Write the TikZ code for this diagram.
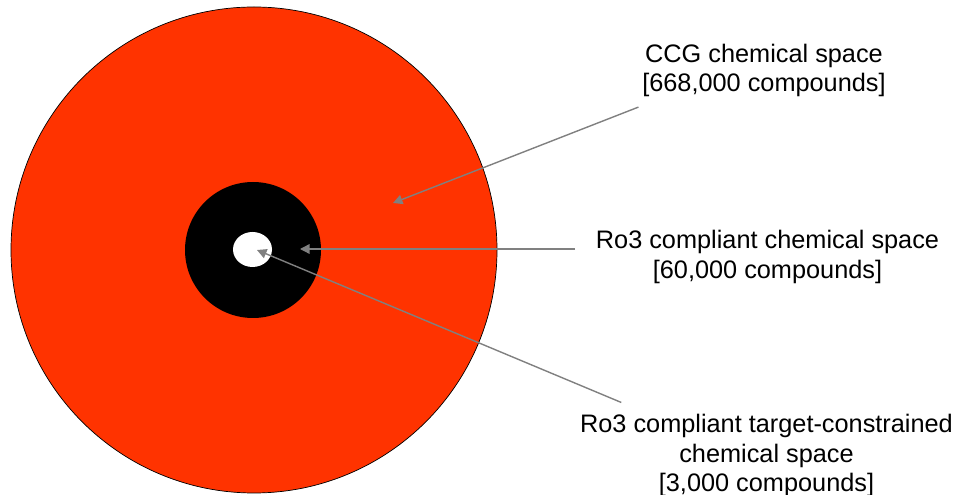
\documentclass[tikz,border=0pt]{standalone}
\usepackage{fontspec}
\setmainfont{Liberation Sans}
\usetikzlibrary{arrows.meta,calc,positioning}
\definecolor{ccgred}{RGB}{255,51,0}
\definecolor{pointergray}{RGB}{128,128,128}
\tikzset{%
	spacelabel/.style = {align=center, inner sep=2pt, font=\fontsize{14.4}{17}\selectfont},
	pointer/.style    = {draw=pointergray, line width=0.8pt, -{Triangle[length=1.9mm,width=1.9mm]}},
}

\begin{document}
\begin{tikzpicture}
	\useasboundingbox (0,0) rectangle (19.1,9.9);
	
	\draw[fill=ccgred, line width=0.4pt] (5.08,4.9) circle (4.86);
	\fill[black] (5.06,4.9) circle (1.36);
	\fill[white] (5.05,4.91) ellipse (0.39 and 0.35);
	
	\coordinate (ccgtip) at (7.86,5.84);
	\coordinate (rotip) at (6.0,4.92);
	\coordinate (targettip) at (5.14,4.9);
	
	\node[spacelabel] (ccg) at (15.28,8.49) {CCG chemical space\\{}[668,000 compounds]};
	\node[spacelabel] (rothree) at (15.35,4.76) {Ro3 compliant chemical space\\{}[60,000 compounds]};
	\node[spacelabel] (target) at (15.33,0.79) {Ro3 compliant target-constrained\\chemical space\\{}[3,000 compounds]};
	
	\draw[pointer] ([yshift=-0.12cm]ccg.south west) -- (ccgtip);
	\draw[pointer] ([xshift=-0.34cm]rothree.west |- rotip) -- (rotip);
	\draw[pointer] ([xshift=0.9cm,yshift=0.15cm]target.north west) -- (targettip);
\end{tikzpicture}
\end{document}
